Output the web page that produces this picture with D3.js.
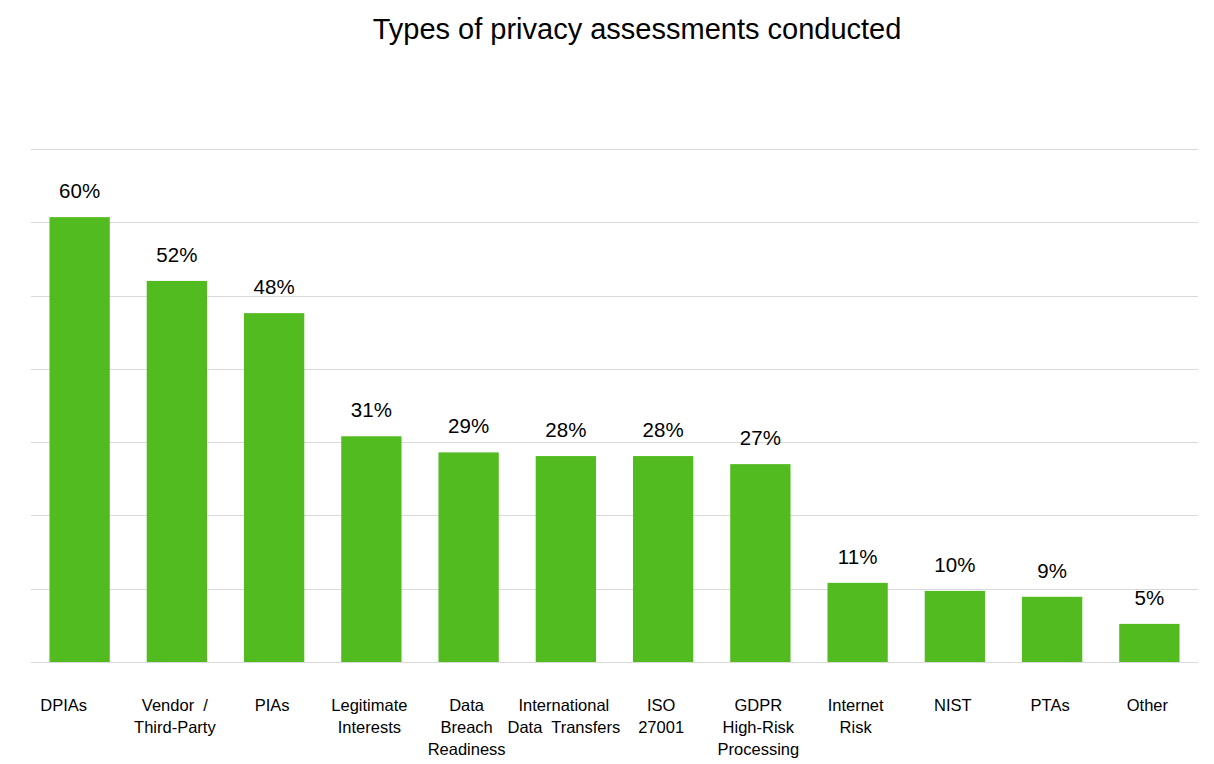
<!DOCTYPE html>
<html>
<head>
<meta charset="utf-8">
<script src="https://cdn.jsdelivr.net/npm/d3@7"></script>
<style>
    body { margin: 0; background: #fff; font-family: "Liberation Sans", Arial, sans-serif; }
</style>
</head>
<body>
<div id="chart"></div>
<script>
// chart data
const categories = [
    ["DPIAs"],
    ["Vendor  /", "Third-Party"],
    ["PIAs"],
    ["Legitimate", "Interests"],
    ["Data", "Breach", "Readiness"],
    ["International", "Data  Transfers"],
    ["ISO", "27001"],
    ["GDPR", "High-Risk", "Processing"],
    ["Internet", "Risk"],
    ["NIST"],
    ["PTAs"],
    ["Other"]
];
const values = [60.7, 52.0, 47.6, 30.8, 28.6, 28.1, 28.1, 27.0, 10.8, 9.7, 8.9, 5.2];
const valueLabels = ["60%", "52%", "48%", "31%", "29%", "28%", "28%", "27%", "11%", "10%", "9%", "5%"];
const gridTicks = [0, 10, 20, 30, 40, 50, 60, 70];

const width = 1214, height = 764;
const margin = {top: 149, right: 16, bottom: 102, left: 31};

const svg = d3.select("#chart").append("svg")
    .attr("width", width)
    .attr("height", height);

// title
svg.append("text")
    .attr("x", 637)
    .attr("y", 39)
    .attr("text-anchor", "middle")
    .style("font-size", "29px")
    .style("fill", "#000")
    .text("Types of privacy assessments conducted");

const x = d3.scaleBand()
    .domain(d3.range(categories.length))
    .range([margin.left, width - margin.right])
    .paddingInner(0.38)
    .paddingOuter(0.19);

const y = d3.scaleLinear()
    .domain([0, 70])
    .range([height - margin.bottom, margin.top]);

// gridlines
svg.append("g")
    .selectAll("line")
    .data(gridTicks)
    .enter()
    .append("line")
    .attr("x1", margin.left)
    .attr("x2", width - margin.right)
    .attr("y1", d => Math.round(y(d)) + 0.5)
    .attr("y2", d => Math.round(y(d)) + 0.5)
    .style("stroke", "#d9d9d9")
    .style("stroke-width", 1);

// bars
svg.append("g")
    .selectAll("rect")
    .data(values)
    .enter()
    .append("rect")
    .attr("x", (d, i) => x(i))
    .attr("y", d => y(d))
    .attr("width", x.bandwidth())
    .attr("height", d => y(0) - y(d))
    .style("fill", "#52bb1f");

// value labels
svg.append("g")
    .selectAll("text")
    .data(values)
    .enter()
    .append("text")
    .attr("x", (d, i) => x(i) + x.bandwidth() / 2)
    .attr("y", d => y(d) - 19)
    .attr("text-anchor", "middle")
    .style("font-size", "20.5px")
    .style("fill", "#000")
    .text((d, i) => valueLabels[i]);

// category labels (first one sits a bit left of its bar, like the original)
const cat = svg.append("g")
    .selectAll("text")
    .data(categories)
    .enter()
    .append("text")
    .attr("x", (d, i) => x(i) + x.bandwidth() / 2 - (i === 0 ? 16 : 2))
    .attr("y", 711)
    .attr("text-anchor", "middle")
    .style("font-size", "16.5px")
    .style("fill", "#000")
    .style("white-space", "pre");

cat.selectAll("tspan")
    .data(d => d)
    .enter()
    .append("tspan")
    .attr("x", function() { return d3.select(this.parentNode).attr("x"); })
    .attr("dy", (d, i) => i === 0 ? 0 : 21.8)
    .text(d => d);
</script>
</body>
</html>
